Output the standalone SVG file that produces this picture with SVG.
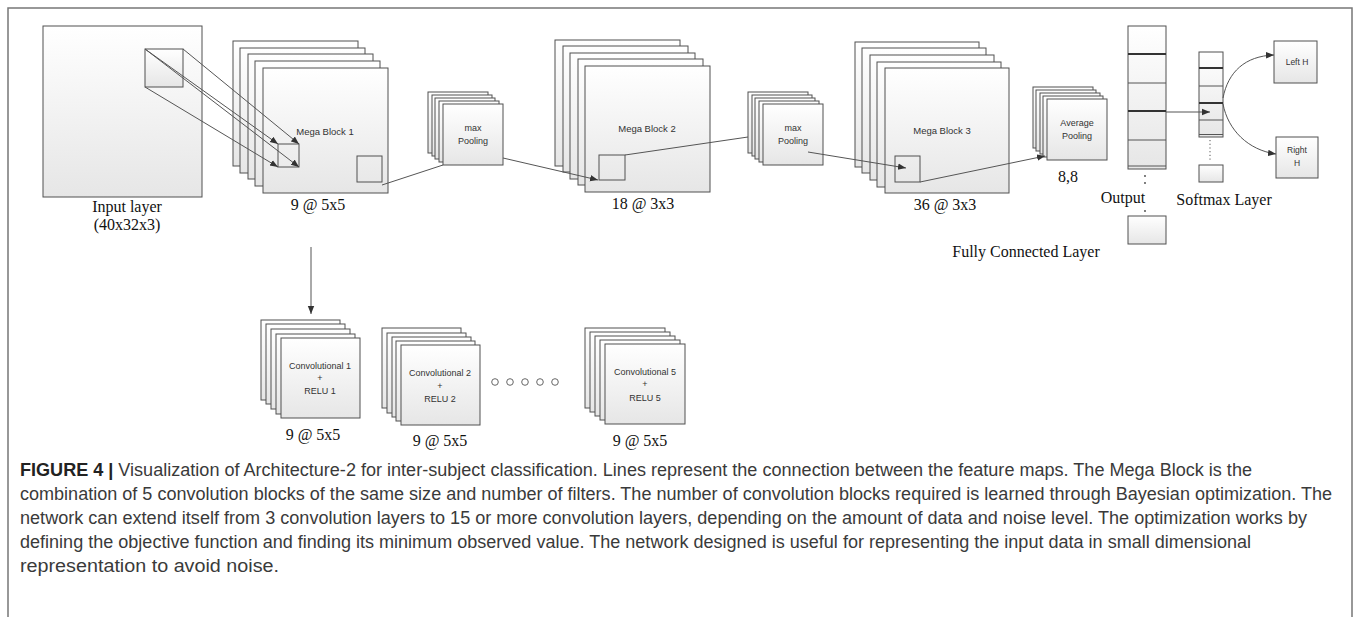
<svg xmlns="http://www.w3.org/2000/svg" width="1358" height="617" viewBox="0 0 1358 617">
<defs>
<linearGradient id="g" x1="0" y1="0" x2="0" y2="1"><stop offset="0" stop-color="#ffffff"/><stop offset="1" stop-color="#e6e6e6"/></linearGradient>
<marker id="ah" viewBox="0 0 10 10" refX="10" refY="5" markerWidth="8" markerHeight="8" markerUnits="userSpaceOnUse" orient="auto"><path d="M0,1 L10,5 L0,9 z" fill="#333"/></marker>
<style>
.s{fill:url(#g);stroke:#505050;stroke-width:1}
.b{fill:none;stroke:#505050;stroke-width:1}
.c{fill:none;stroke:#555;stroke-width:1}
.a{fill:none;stroke:#555;stroke-width:1;marker-end:url(#ah)}
.t{font-family:"Liberation Serif",serif;font-size:16px;fill:#111;text-anchor:middle}
.i{font-family:"Liberation Sans",sans-serif;font-size:9px;fill:#333;text-anchor:middle}
.cap{font-family:"Liberation Sans",sans-serif;font-size:17.5px;fill:#3a3a3a}
.thk{stroke:#333;stroke-width:2}
</style>
</defs>
<rect width="1358" height="617" fill="#ffffff"/>
<path d="M8,617 V8 H1352 V617" fill="none" stroke="#777" stroke-width="1.5"/>

<g id="input-layer">
<rect class="s" x="43" y="26" width="159" height="171"/>
<rect class="s" x="145" y="49" width="38" height="38"/>
<text class="t" x="127" y="212">Input layer</text>
<text class="t" x="127" y="230">(40x32x3)</text>
</g>

<g id="mega-block-1">
<rect class="s" x="233" y="41" width="125" height="125"/>
<rect class="s" x="240" y="48" width="125" height="125"/>
<rect class="s" x="248" y="54" width="125" height="125"/>
<rect class="s" x="255" y="61" width="125" height="125"/>
<rect class="s" x="263" y="68" width="125" height="125"/>
<rect class="b" x="278" y="144" width="21" height="23"/>
<rect class="b" x="357" y="156" width="25" height="26"/>
<text class="i" x="325" y="135" style="font-size:9.5px">Mega Block 1</text>
<text class="t" x="318" y="210">9 @ 5x5</text>
</g>

<g id="max-pooling-1">
<rect class="s" x="428" y="92" width="60" height="61"/>
<rect class="s" x="432" y="95" width="60" height="61"/>
<rect class="s" x="435" y="98" width="60" height="61"/>
<rect class="s" x="439" y="101" width="60" height="61"/>
<rect class="s" x="443" y="104" width="60" height="61"/>
<text class="i" x="473" y="131">max</text>
<text class="i" x="473" y="144">Pooling</text>
</g>

<g id="mega-block-2">
<rect class="s" x="555" y="40" width="125" height="126"/>
<rect class="s" x="563" y="46" width="125" height="126"/>
<rect class="s" x="570" y="53" width="125" height="126"/>
<rect class="s" x="578" y="59" width="125" height="126"/>
<rect class="s" x="585" y="66" width="125" height="126"/>
<rect class="b" x="599" y="155" width="26" height="25"/>
<text class="i" x="647" y="132" style="font-size:9.5px">Mega Block 2</text>
<text class="t" x="643" y="209">18 @ 3x3</text>
</g>

<g id="max-pooling-2">
<rect class="s" x="748" y="92" width="60" height="61"/>
<rect class="s" x="752" y="95" width="60" height="61"/>
<rect class="s" x="755" y="98" width="60" height="61"/>
<rect class="s" x="759" y="101" width="60" height="61"/>
<rect class="s" x="763" y="104" width="60" height="61"/>
<text class="i" x="793" y="131">max</text>
<text class="i" x="793" y="144">Pooling</text>
</g>

<g id="mega-block-3">
<rect class="s" x="855" y="42" width="124" height="125"/>
<rect class="s" x="862" y="48" width="124" height="125"/>
<rect class="s" x="870" y="55" width="124" height="125"/>
<rect class="s" x="877" y="62" width="124" height="125"/>
<rect class="s" x="885" y="68" width="124" height="125"/>
<rect class="b" x="895" y="156" width="25" height="26"/>
<text class="i" x="942" y="134" style="font-size:9.5px">Mega Block 3</text>
<text class="t" x="945" y="210">36 @ 3x3</text>
</g>

<g id="average-pooling">
<rect class="s" x="1033" y="87" width="60" height="61"/>
<rect class="s" x="1036" y="90" width="60" height="61"/>
<rect class="s" x="1040" y="93" width="60" height="61"/>
<rect class="s" x="1043" y="96" width="60" height="61"/>
<rect class="s" x="1047" y="99" width="60" height="61"/>
<text class="i" x="1077" y="126">Average</text>
<text class="i" x="1077" y="139">Pooling</text>
<text class="t" x="1068" y="182">8,8</text>
</g>

<g id="fully-connected">
<text class="t" x="1026" y="257">Fully Connected Layer</text>
</g>

<g id="output">
<rect class="s" x="1128" y="26" width="38" height="143"/>
<line class="thk" x1="1128" y1="54" x2="1166" y2="54"/>
<line class="c" x1="1128" y1="83" x2="1166" y2="83"/>
<line class="thk" x1="1128" y1="111" x2="1166" y2="111"/>
<line class="c" x1="1128" y1="140" x2="1166" y2="140"/>
<line class="c" x1="1128" y1="166" x2="1166" y2="166"/>
<circle cx="1145" cy="176" r="0.9" fill="#444"/>
<circle cx="1145" cy="183" r="0.9" fill="#444"/>
<circle cx="1145" cy="211" r="0.9" fill="#444"/>
<rect class="s" x="1128" y="216" width="38" height="28"/>
<text class="t" x="1123" y="203">Output</text>
</g>

<g id="softmax-layer">
<rect class="s" x="1199" y="52" width="24" height="85"/>
<line class="thk" x1="1199" y1="68" x2="1223" y2="68"/>
<line class="c" x1="1199" y1="86" x2="1223" y2="86"/>
<line class="thk" x1="1199" y1="103" x2="1223" y2="103"/>
<line class="c" x1="1199" y1="120" x2="1223" y2="120"/>
<line class="c" x1="1199" y1="134.5" x2="1223" y2="134.5"/>
<line x1="1210" y1="140" x2="1210" y2="162" stroke="#555" stroke-width="1" stroke-dasharray="1.2,2.5"/>
<rect class="s" x="1199" y="165" width="24" height="17"/>
<text class="t" x="1224" y="205">Softmax Layer</text>
</g>

<g id="left-h">
<rect class="s" x="1274" y="41" width="43" height="42"/>
<text class="i" x="1297" y="65" style="font-size:8.5px">Left H</text>
</g>

<g id="right-h">
<rect class="s" x="1276" y="137" width="42" height="41"/>
<text class="i" x="1297" y="153" style="font-size:8.5px">Right</text>
<text class="i" x="1297" y="166" style="font-size:8.5px">H</text>
</g>

<g id="conv-1">
<rect class="s" x="261" y="320" width="79" height="80"/>
<rect class="s" x="266" y="324" width="79" height="80"/>
<rect class="s" x="271" y="329" width="79" height="80"/>
<rect class="s" x="276" y="334" width="79" height="80"/>
<rect class="s" x="281" y="338" width="79" height="80"/>
<text class="i" x="320" y="369">Convolutional 1</text>
<text class="i" x="320" y="381">+</text>
<text class="i" x="320" y="394">RELU 1</text>
<text class="t" x="313" y="440">9 @ 5x5</text>
</g>

<g id="conv-2">
<rect class="s" x="382" y="328" width="79" height="80"/>
<rect class="s" x="387" y="333" width="79" height="80"/>
<rect class="s" x="392" y="337" width="79" height="80"/>
<rect class="s" x="396" y="341" width="79" height="80"/>
<rect class="s" x="401" y="345" width="79" height="80"/>
<text class="i" x="440" y="376">Convolutional 2</text>
<text class="i" x="440" y="389">+</text>
<text class="i" x="440" y="402">RELU 2</text>
<text class="t" x="440" y="446">9 @ 5x5</text>
</g>

<g id="ellipsis">
<circle cx="495" cy="382" r="3.3" fill="#fff" stroke="#666" stroke-width="1"/>
<circle cx="510" cy="382" r="3.3" fill="#fff" stroke="#666" stroke-width="1"/>
<circle cx="525" cy="382" r="3.3" fill="#fff" stroke="#666" stroke-width="1"/>
<circle cx="540" cy="382" r="3.3" fill="#fff" stroke="#666" stroke-width="1"/>
<circle cx="555" cy="382" r="3.3" fill="#fff" stroke="#666" stroke-width="1"/>
</g>

<g id="conv-5">
<rect class="s" x="585" y="328" width="80" height="80"/>
<rect class="s" x="590" y="332" width="80" height="80"/>
<rect class="s" x="595" y="336" width="80" height="80"/>
<rect class="s" x="600" y="340" width="80" height="80"/>
<rect class="s" x="605" y="344" width="80" height="80"/>
<text class="i" x="645" y="375">Convolutional 5</text>
<text class="i" x="645" y="387">+</text>
<text class="i" x="645" y="401">RELU 5</text>
<text class="t" x="640" y="446">9 @ 5x5</text>
</g>

<g id="connectors">
<line class="a" x1="183" y1="49" x2="299" y2="144"/>
<line class="a" x1="145" y1="49" x2="278" y2="144"/>
<line class="a" x1="145" y1="49" x2="299" y2="167"/>
<line class="a" x1="145" y1="87" x2="278" y2="167"/>
<line class="c" x1="382" y1="185" x2="443" y2="165"/>
<line class="a" x1="503" y1="158" x2="598" y2="180"/>
<line class="c" x1="625" y1="155" x2="748" y2="137"/>
<line class="a" x1="808" y1="152" x2="906" y2="168"/>
<line class="a" x1="920" y1="182" x2="1045" y2="156"/>
<line class="a" x1="1166" y1="112" x2="1210" y2="112"/>
<path class="a" d="M1223,98 C1228,72 1245,56 1274,55"/>
<path class="a" d="M1223,104 C1228,130 1248,150 1276,154"/>
<line class="a" x1="311" y1="247" x2="311" y2="314"/>
</g>

<g id="caption">
<text class="cap" x="20" y="476" textLength="1232" lengthAdjust="spacingAndGlyphs"><tspan font-weight="bold" fill="#222">FIGURE 4 |</tspan> Visualization of Architecture-2 for inter-subject classification. Lines represent the connection between the feature maps. The Mega Block is the</text>
<text class="cap" x="20" y="500" textLength="1312" lengthAdjust="spacingAndGlyphs">combination of 5 convolution blocks of the same size and number of filters. The number of convolution blocks required is learned through Bayesian optimization. The</text>
<text class="cap" x="20" y="524" textLength="1287" lengthAdjust="spacingAndGlyphs">network can extend itself from 3 convolution layers to 15 or more convolution layers, depending on the amount of data and noise level. The optimization works by</text>
<text class="cap" x="20" y="548" textLength="1231" lengthAdjust="spacingAndGlyphs">defining the objective function and finding its minimum observed value. The network designed is useful for representing the input data in small dimensional</text>
<text class="cap" x="20" y="572" textLength="259" lengthAdjust="spacingAndGlyphs">representation to avoid noise.</text>
</g>
</svg>
